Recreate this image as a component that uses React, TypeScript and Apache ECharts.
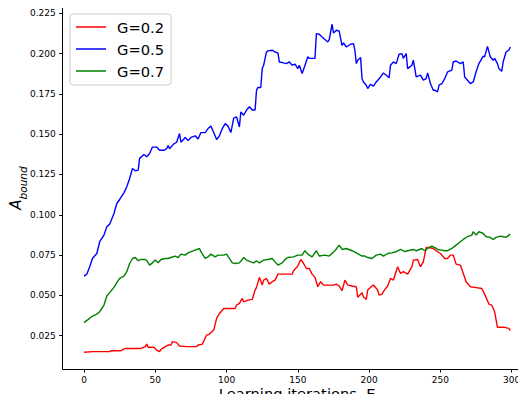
import React, { useEffect, useRef } from "react";
import * as echarts from "echarts";

// Learning iterations (E) and bound values for each gain setting
const g02: [number, number][] = [
  [0, 0.0147], [6, 0.0151], [18, 0.0151], [19, 0.0157], [26, 0.0157], [29, 0.0171], [33, 0.0171],
  [40, 0.0171], [43, 0.0182], [44, 0.0198], [45, 0.0178], [49, 0.0178], [51, 0.0161], [53, 0.0151],
  [54, 0.0165], [57, 0.0182], [59, 0.0192], [61, 0.0192], [62, 0.0213], [65, 0.0207], [67, 0.0186],
  [72, 0.0182], [79, 0.0182], [80, 0.0192], [83, 0.0198], [86, 0.0254], [88, 0.026], [91, 0.0285],
  [93, 0.0357], [95, 0.0388], [98, 0.0419], [100, 0.0419], [102, 0.0419], [106, 0.0419], [107, 0.044],
  [109, 0.045], [111, 0.0481], [112, 0.046], [115, 0.0471], [118, 0.0475], [120, 0.0533], [121, 0.055],
  [123, 0.0612], [125, 0.0564], [126, 0.0595], [128, 0.0605], [130, 0.057], [132, 0.0585], [134, 0.0595],
  [136, 0.0632], [139, 0.0632], [142, 0.0632], [146, 0.0632], [147, 0.0653], [150, 0.0682], [152, 0.0723],
  [154, 0.0698], [156, 0.0667], [158, 0.0667], [160, 0.0632], [162, 0.0612], [164, 0.0554], [166, 0.0585],
  [168, 0.0564], [171, 0.0564], [175, 0.0564], [177, 0.057], [179, 0.0558], [181, 0.0529], [183, 0.0595],
  [185, 0.0564], [188, 0.0558], [191, 0.0554], [192, 0.0488], [195, 0.0517], [196, 0.0492], [198, 0.0475],
  [199, 0.0533], [202, 0.0558], [203, 0.0564], [206, 0.0533], [207, 0.0502], [209, 0.0508], [211, 0.0537],
  [213, 0.0558], [215, 0.0605], [217, 0.0595], [220, 0.0678], [222, 0.0636], [224, 0.0647], [227, 0.0632],
  [230, 0.0678], [231, 0.0719], [234, 0.0723], [236, 0.0678], [238, 0.0708], [240, 0.0797], [242, 0.0797],
  [245, 0.0791], [247, 0.0777], [250, 0.076], [253, 0.0729], [255, 0.0729], [257, 0.075], [259, 0.075],
  [261, 0.0694], [264, 0.0688], [268, 0.0585], [271, 0.0554], [274, 0.055], [279, 0.0543], [281, 0.0508],
  [284, 0.0446], [286, 0.044], [288, 0.0399], [290, 0.0302], [292, 0.0302], [295, 0.0302], [298, 0.0295],
  [299, 0.0281],
];

const g05: [number, number][] = [
  [0, 0.062], [2, 0.0632], [4, 0.0678], [6, 0.073], [9, 0.076], [11, 0.0833], [14, 0.0874], [16, 0.0926],
  [18, 0.0942], [21, 0.1008], [23, 0.107], [25, 0.1095], [28, 0.1136], [30, 0.1174], [32, 0.1225],
  [34, 0.1287], [36, 0.1273], [38, 0.1277], [39, 0.135], [42, 0.1374], [44, 0.136], [46, 0.138],
  [48, 0.142], [51, 0.142], [53, 0.14], [56, 0.14], [58, 0.141], [59, 0.143], [60, 0.141], [63, 0.144],
  [65, 0.145], [67, 0.1504], [68, 0.145], [71, 0.148], [73, 0.146], [75, 0.148], [78, 0.149], [80, 0.147],
  [82, 0.151], [85, 0.151], [87, 0.1535], [89, 0.155], [91, 0.151], [93, 0.1467], [95, 0.149],
  [97, 0.1535], [99, 0.1566], [101, 0.155], [103, 0.151], [105, 0.16], [107, 0.1607], [109, 0.1545],
  [110, 0.1638], [112, 0.1618], [114, 0.165], [116, 0.167], [118, 0.165], [120, 0.165], [121, 0.1773],
  [122, 0.179], [124, 0.179], [125, 0.1907], [126, 0.1928], [128, 0.201], [129, 0.2017], [132, 0.2021],
  [134, 0.201], [136, 0.2004], [137, 0.1948], [140, 0.1942], [142, 0.1938], [144, 0.1948], [146, 0.1928],
  [148, 0.1934], [150, 0.1907], [151, 0.1928], [153, 0.1876], [155, 0.1928], [157, 0.198], [158, 0.197],
  [161, 0.197], [162, 0.197], [163, 0.2124], [165, 0.212], [167, 0.2103], [169, 0.2087], [171, 0.2072],
  [172, 0.2087], [174, 0.2182], [175, 0.2128], [177, 0.2145], [179, 0.214], [181, 0.205], [182, 0.2066],
  [184, 0.2041], [187, 0.2058], [189, 0.2062], [190, 0.2021], [191, 0.1938], [192, 0.1959], [194, 0.1975],
  [195, 0.1845], [196, 0.1824], [198, 0.1804], [199, 0.1783], [201, 0.181], [203, 0.1798], [205, 0.1824],
  [208, 0.1855], [210, 0.188], [212, 0.1866], [214, 0.185], [215, 0.1928], [217, 0.1948], [219, 0.1938],
  [221, 0.1996], [223, 0.2], [224, 0.197], [226, 0.2], [227, 0.1907], [230, 0.1928], [231, 0.1959],
  [233, 0.1855], [236, 0.1866], [238, 0.1835], [240, 0.1845], [241, 0.188], [243, 0.1814], [245, 0.1773],
  [246, 0.1773], [248, 0.1762], [249, 0.1804], [251, 0.1814], [253, 0.1845], [255, 0.1886], [258, 0.1897],
  [259, 0.1948], [261, 0.1954], [264, 0.1938], [266, 0.1948], [267, 0.1855], [269, 0.1835], [271, 0.1814],
  [273, 0.1824], [275, 0.1886], [277, 0.1938], [280, 0.1984], [281, 0.198], [283, 0.2045], [285, 0.198],
  [287, 0.1959], [288, 0.197], [290, 0.1938], [291, 0.1907], [293, 0.189], [294, 0.1948], [296, 0.201],
  [298, 0.2021], [299, 0.2041],
];

const g07: [number, number][] = [
  [0, 0.0331], [3, 0.0351], [6, 0.0372], [9, 0.0384], [11, 0.0399], [14, 0.044], [16, 0.0496], [18, 0.0517],
  [21, 0.055], [23, 0.0579], [25, 0.0605], [28, 0.062], [30, 0.0647], [32, 0.0698], [34, 0.0729],
  [36, 0.0735], [38, 0.0715], [40, 0.0723], [43, 0.0723], [44, 0.0715], [46, 0.0688], [48, 0.0702],
  [50, 0.0719], [52, 0.0702], [54, 0.0723], [57, 0.0729], [59, 0.0729], [61, 0.0735], [64, 0.0744],
  [66, 0.0735], [68, 0.0756], [71, 0.075], [73, 0.0764], [75, 0.0771], [78, 0.0781], [81, 0.0791],
  [82, 0.0771], [85, 0.0729], [87, 0.0739], [89, 0.0756], [92, 0.0739], [94, 0.075], [98, 0.075],
  [100, 0.0756], [102, 0.0729], [104, 0.0702], [106, 0.0698], [109, 0.0702], [112, 0.0735], [114, 0.0719],
  [117, 0.0708], [119, 0.0702], [121, 0.0715], [123, 0.0702], [126, 0.0719], [129, 0.0723], [132, 0.0729],
  [134, 0.0708], [136, 0.0688], [139, 0.0702], [141, 0.0723], [143, 0.0735], [147, 0.0739], [150, 0.075],
  [153, 0.075], [155, 0.0777], [157, 0.0756], [160, 0.0739], [163, 0.0777], [165, 0.0744], [169, 0.075],
  [172, 0.0744], [176, 0.0777], [179, 0.0812], [181, 0.0785], [184, 0.0791], [188, 0.0777], [191, 0.0764],
  [195, 0.0744], [197, 0.0744], [199, 0.0735], [202, 0.0729], [205, 0.075], [208, 0.0756], [210, 0.0744],
  [213, 0.076], [216, 0.0764], [219, 0.0771], [222, 0.0785], [225, 0.0771], [227, 0.0777], [231, 0.0785],
  [233, 0.0777], [237, 0.0791], [239, 0.0777], [241, 0.0791], [244, 0.0806], [246, 0.0797], [248, 0.0785],
  [251, 0.0781], [253, 0.0777], [255, 0.0777], [258, 0.0791], [261, 0.0812], [264, 0.0833], [266, 0.0847],
  [269, 0.0864], [272, 0.0874], [273, 0.0895], [275, 0.0874], [277, 0.0895], [280, 0.0884], [282, 0.0864],
  [285, 0.086], [287, 0.0847], [289, 0.086], [292, 0.0868], [294, 0.0864], [296, 0.086], [299, 0.088],
];

const seriesNames = ["G=0.2", "G=0.5", "G=0.7"];
const seriesColors = ["#ff0000", "#0000ff", "#008000"];
const xTicks = [0, 50, 100, 150, 200, 250, 300];
const yTicks = [0.025, 0.05, 0.075, 0.1, 0.125, 0.15, 0.175, 0.2, 0.225];

const FONT = "DejaVu Sans";

export default function App() {
  const ref = useRef<HTMLDivElement>(null);

  useEffect(() => {
    if (!ref.current) return;
    const chart = echarts.init(ref.current, null, { renderer: "svg" });
    const seriesData = [g02, g05, g07];

    chart.setOption({
      animation: false,
      backgroundColor: "#ffffff",
      grid: {
        left: 62.7,
        right: -5.6,
        top: 7,
        bottom: 33,
        containLabel: false,
        outerBoundsMode: "none",
      },
      legend: {
        orient: "vertical",
        left: 70,
        top: 14,
        data: seriesNames,
        icon: "rect",
        itemWidth: 30,
        itemHeight: 1.5,
        itemGap: 6,
        padding: [5, 7, 6, 6],
        backgroundColor: "rgba(255,255,255,0.8)",
        borderColor: "#cccccc",
        borderWidth: 1,
        borderRadius: 3,
        textStyle: {
          fontFamily: FONT,
          fontSize: 14.7,
          lineHeight: 16,
          color: "#000",
          padding: [0, 0, 0, 6],
        },
      },
      xAxis: [
        {
          type: "value",
          min: -14.95,
          max: 313.95,
          name: "Learning iterations, E",
          nameLocation: "middle",
          nameGap: 17,
          nameMoveOverlap: false,
          nameTextStyle: { fontFamily: FONT, fontSize: 14.7, color: "#000", verticalAlign: "top" },
          axisLine: { show: true, onZero: false, lineStyle: { color: "#000", width: 1 } },
          axisTick: { show: true, length: 3.5, lineStyle: { color: "#000" }, customValues: xTicks },
          axisLabel: { fontFamily: FONT, fontSize: 9, color: "#000", margin: 6, customValues: xTicks },
          splitLine: { show: false },
        },
        {
          type: "value",
          position: "top",
          min: -14.95,
          max: 313.95,
          axisLine: { show: true, onZero: false, lineStyle: { color: "#000", width: 1 } },
          axisTick: { show: false },
          axisLabel: { show: false },
          splitLine: { show: false },
        },
      ],
      yAxis: {
        type: "value",
        min: 0.00434,
        max: 0.2289,
        name: "{a|A}{b|bound}",
        nameLocation: "middle",
        nameGap: 34,
        nameMoveOverlap: false,
        nameRotate: 90,
        nameTextStyle: {
          color: "#000",
          rich: {
            a: { fontFamily: FONT, fontSize: 15, fontStyle: "italic", color: "#000", padding: [0, 0, 5, 0], verticalAlign: "top" },
            b: { fontFamily: FONT, fontSize: 10.5, fontStyle: "italic", color: "#000", verticalAlign: "bottom" },
          },
        },
        axisLine: { show: true, onZero: false, lineStyle: { color: "#000", width: 1 } },
        axisTick: { show: true, length: 3.5, lineStyle: { color: "#000" }, customValues: yTicks },
        axisLabel: {
          fontFamily: FONT,
          fontSize: 9,
          color: "#000",
          margin: 7,
          customValues: yTicks,
          formatter: (v: number) => v.toFixed(3),
        },
        splitLine: { show: false },
      },
      series: seriesData.map((d, i) => ({
        name: seriesNames[i],
        type: "line",
        xAxisIndex: 0,
        data: d,
        showSymbol: false,
        symbol: "none",
        lineStyle: { color: seriesColors[i], width: 1.4 },
        itemStyle: { color: seriesColors[i] },
      })),
    });

    return () => chart.dispose();
  }, []);

  return <div ref={ref} style={{ width: 526, height: 402, margin: -8 }} />;
}
